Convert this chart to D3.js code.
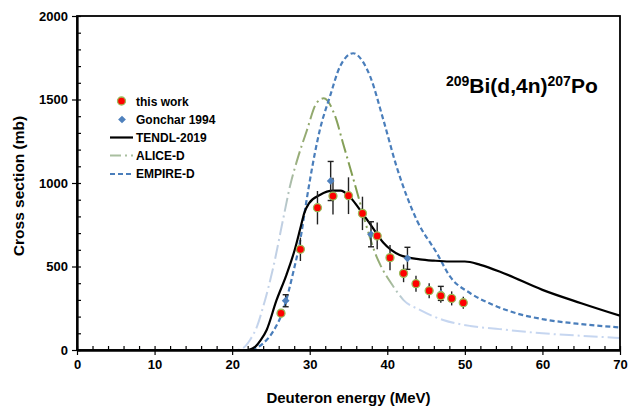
<!DOCTYPE html>
<html>
<head>
<meta charset="utf-8">
<script src="https://cdn.jsdelivr.net/npm/d3@7"></script>
<style>
  html, body { margin: 0; padding: 0; background: #fff; }
  svg { display: block; font-family: "Liberation Sans", Arial, sans-serif; }
</style>
</head>
<body>
<svg id="chart" width="629" height="413"></svg>
<script>
// Measured cross sections, this work
const workEnergy = [26.3, 28.8, 31.0, 33.0, 35.0, 36.8, 38.7, 40.35, 42.1, 43.7, 45.4, 46.9, 48.3, 49.8];
const workXs     = [220, 603, 852, 922, 924, 818, 683, 553, 459, 397, 355, 325, 309, 283];
const workErr    = [20, 70, 100, 110, 110, 100, 80, 75, 53, 48, 45, 42, 42, 36];

// Gonchar 1994
const goncharEnergy = [26.9, 32.7, 37.9, 42.6, 46.9];
const goncharXs     = [295, 1012, 693, 549, 339];
const goncharErr    = [36, 117, 75, 66, 42];

// TENDL-2019 excitation function
const tendlEnergy = [22.1, 23, 23.7, 24.45, 25.7, 27, 28.1, 28.8, 29.3, 29.9, 31.3, 33, 34, 35, 36.5, 38, 39.5, 41.6, 44.2, 46, 48, 50, 52, 55, 60, 65, 70];
const tendlXs     = [0, 20, 60, 120, 295, 450, 605, 730, 820, 878, 928, 954, 954, 925, 838, 740, 642, 569, 543, 535, 530, 530, 510, 460, 360, 280, 205];

// ALICE-D excitation function
const aliceEnergy = [6, 20.5, 21.5, 22.3, 23.2, 24.0, 25.3, 26.6, 27.5, 28.3, 29.6, 30.9, 31.8, 33.3, 34.3, 35.4, 36.2, 37.2, 38.7, 39.1, 40.8, 42.1, 44.2, 47.2, 50.7, 54.5, 60, 65, 70];
const aliceXs     = [0, 0, 15, 60, 140, 259, 495, 790, 990, 1125, 1310, 1480, 1507, 1397, 1237, 1060, 930, 760, 550, 510, 379, 299, 240, 180, 144, 125, 100, 85, 72];

// EMPIRE-D excitation function
const empireEnergy = [6, 22, 23, 24, 25.4, 26.6, 27.9, 28.75, 29.5, 30.0, 31.3, 32.6, 33.9, 35.6, 36.8, 37.8, 39.5, 41.2, 43.8, 46.4, 48.1, 50.7, 53.7, 57, 60, 65, 70];
const empireXs     = [0, 0, 10, 40, 120, 240, 470, 650, 870, 1010, 1317, 1517, 1697, 1777, 1730, 1637, 1377, 1098, 778, 579, 439, 340, 269, 215, 185, 155, 135];

// Axis ticks
const xTicks = [0, 10, 20, 30, 40, 50, 60, 70];
const yTicks = [0, 500, 1000, 1500, 2000];

const svg = d3.select("#chart");
const m = { left: 77, right: 620, top: 16, bottom: 350 };

const x = d3.scaleLinear().domain([0, 70]).range([m.left, m.right]);
const y = d3.scaleLinear().domain([0, 2000]).range([m.bottom, m.top]);

const defs = svg.append("defs");
const grad = defs.append("linearGradient")
  .attr("id", "aliceGrad")
  .attr("gradientUnits", "userSpaceOnUse")
  .attr("x1", x(0)).attr("x2", x(70)).attr("y1", 0).attr("y2", 0);
[[x(22), "#c6d6f0"], [x(26.5), "#c0cfe2"], [x(28.5), "#98ad78"], [x(36), "#7f9c4f"], [x(40), "#9db386"], [x(42.5), "#c6d6f0"]]
  .forEach(([px, c]) => grad.append("stop").attr("offset", (px - x(0)) / (x(70) - x(0))).attr("stop-color", c));

const clip = defs.append("clipPath").attr("id", "plotClip");
clip.append("rect").attr("x", m.left).attr("y", m.top).attr("width", m.right - m.left).attr("height", m.bottom - m.top);

const line = d3.line().x(d => x(d[0])).y(d => y(d[1])).curve(d3.curveMonotoneX);
const zip = (a, b) => a.map((v, i) => [v, b[i]]);

const plot = svg.append("g").attr("clip-path", "url(#plotClip)");

plot.append("path")
  .attr("d", line(zip(aliceEnergy, aliceXs)))
  .attr("fill", "none").attr("stroke", "url(#aliceGrad)")
  .attr("stroke-width", 2).attr("stroke-dasharray", "14,4,2,4");

plot.append("path")
  .attr("d", line(zip(empireEnergy, empireXs)))
  .attr("fill", "none").attr("stroke", "#4a7ebb")
  .attr("stroke-width", 2.2).attr("stroke-dasharray", "5,3");

plot.append("path")
  .attr("d", line(zip(tendlEnergy, tendlXs)))
  .attr("fill", "none").attr("stroke", "#000")
  .attr("stroke-width", 2.2);

// Frame
svg.append("rect")
  .attr("x", m.left).attr("y", m.top).attr("width", m.right - m.left).attr("height", m.bottom - m.top)
  .attr("fill", "none").attr("stroke", "#000").attr("stroke-width", 1.8);

// Axes: major ticks cross outward, minor ticks point inward
const xAxis = svg.append("g").attr("transform", `translate(0,${m.bottom})`);
xAxis.call(d3.axisBottom(x).tickValues(xTicks).tickSize(5).tickSizeOuter(0).tickFormat(d3.format("d")));
const xMinor = svg.append("g").attr("transform", `translate(0,${m.bottom})`);
xMinor.call(d3.axisTop(x).tickValues(d3.range(0, 71, 2)).tickSize(4).tickSizeOuter(0).tickFormat(""));

const yAxis = svg.append("g").attr("transform", `translate(${m.left},0)`);
yAxis.call(d3.axisLeft(y).tickValues(yTicks).tickSize(5).tickSizeOuter(0).tickFormat(d3.format("d")));
const yMinor = svg.append("g").attr("transform", `translate(${m.left},0)`);
yMinor.call(d3.axisRight(y).tickValues(d3.range(0, 2001, 100)).tickSize(4).tickSizeOuter(0).tickFormat(""));

svg.selectAll(".domain").attr("stroke", "#000").attr("stroke-width", 1.8);
svg.selectAll(".tick line").attr("stroke", "#000").attr("stroke-width", 1.2);
xAxis.selectAll("text").attr("font-size", 13).attr("font-weight", "bold").attr("fill", "#000")
  .attr("font-family", "Liberation Sans, Arial, sans-serif").attr("dy", "1em").attr("y", 6);
yAxis.selectAll("text").attr("font-size", 13).attr("font-weight", "bold").attr("fill", "#000")
  .attr("font-family", "Liberation Sans, Arial, sans-serif").attr("x", -9);

// Axis titles
svg.append("text")
  .attr("x", (m.left + m.right) / 2).attr("y", 403)
  .attr("text-anchor", "middle").attr("font-size", 15).attr("font-weight", "bold")
  .text("Deuteron energy (MeV)");
svg.append("text")
  .attr("transform", `translate(24,${(m.top + m.bottom) / 2 + 3}) rotate(-90)`)
  .attr("text-anchor", "middle").attr("font-size", 15.5).attr("font-weight", "bold")
  .text("Cross section (mb)");

// Error bars
const work = workEnergy.map((e, i) => ({ e, v: workXs[i], err: workErr[i] }));
const gonchar = goncharEnergy.map((e, i) => ({ e, v: goncharXs[i], err: goncharErr[i] }));

svg.append("g").selectAll("line").data(work).join("line")
  .attr("x1", d => x(d.e)).attr("x2", d => x(d.e))
  .attr("y1", d => y(d.v - d.err)).attr("y2", d => y(d.v + d.err))
  .attr("stroke", "#222").attr("stroke-width", 1.4);

const gErr = svg.append("g").attr("stroke", "#222").attr("stroke-width", 1.4);
gErr.selectAll("line.v").data(gonchar).join("line").attr("class", "v")
  .attr("x1", d => x(d.e)).attr("x2", d => x(d.e))
  .attr("y1", d => y(d.v - d.err)).attr("y2", d => y(d.v + d.err));
gErr.selectAll("line.t").data(gonchar).join("line").attr("class", "t")
  .attr("x1", d => x(d.e) - 3).attr("x2", d => x(d.e) + 3)
  .attr("y1", d => y(d.v + d.err)).attr("y2", d => y(d.v + d.err));
gErr.selectAll("line.b").data(gonchar).join("line").attr("class", "b")
  .attr("x1", d => x(d.e) - 3).attr("x2", d => x(d.e) + 3)
  .attr("y1", d => y(d.v - d.err)).attr("y2", d => y(d.v - d.err));

// Markers: square diamonds for Gonchar, outlined dots for this work
const diamond = d3.symbol().type(d3.symbolSquare).size(30);
svg.append("g").selectAll("path").data(gonchar).join("path")
  .attr("d", diamond)
  .attr("transform", d => `translate(${x(d.e)},${y(d.v)}) rotate(45)`)
  .attr("fill", "#4f81bd");

svg.append("g").selectAll("circle").data(work).join("circle")
  .attr("cx", d => x(d.e)).attr("cy", d => y(d.v)).attr("r", 4)
  .attr("fill", "#ff0000").attr("stroke", "#9bbb59").attr("stroke-width", 1.3);

// Legend
const lg = svg.append("g").attr("font-size", 12).attr("font-weight", "bold");
lg.append("circle").attr("cx", 121.5).attr("cy", 101).attr("r", 4)
  .attr("fill", "#ff0000").attr("stroke", "#9bbb59").attr("stroke-width", 1.3);
lg.append("path").attr("d", diamond).attr("transform", "translate(122,119.5) rotate(45)").attr("fill", "#4f81bd");
lg.append("line").attr("x1", 110).attr("x2", 133).attr("y1", 137.5).attr("y2", 137.5)
  .attr("stroke", "#000").attr("stroke-width", 2.2);
lg.append("line").attr("x1", 110).attr("x2", 133).attr("y1", 155.5).attr("y2", 155.5)
  .attr("stroke", "#a9bfa0").attr("stroke-width", 2).attr("stroke-dasharray", "11,4,2,4");
lg.append("line").attr("x1", 110).attr("x2", 133).attr("y1", 174).attr("y2", 174)
  .attr("stroke", "#4a7ebb").attr("stroke-width", 2.2).attr("stroke-dasharray", "5,3");
const labels = ["this work", "Gonchar 1994", "TENDL-2019", "ALICE-D", "EMPIRE-D"];
const labelY = [101.5, 119.5, 137.5, 155.5, 174];
lg.selectAll("text").data(labels).join("text")
  .attr("x", 136).attr("y", (d, i) => labelY[i]).attr("dy", "0.35em")
  .text(d => d);

// Reaction label
const t = svg.append("text").attr("x", 446).attr("y", 93)
  .attr("font-size", 21).attr("font-weight", "bold");
t.append("tspan").attr("font-size", 14).attr("dy", -7).text("209");
t.append("tspan").attr("dy", 7).text("Bi(d,4n)");
t.append("tspan").attr("font-size", 14).attr("dy", -7).text("207");
t.append("tspan").attr("dy", 7).text("Po");
</script>
</body>
</html>
